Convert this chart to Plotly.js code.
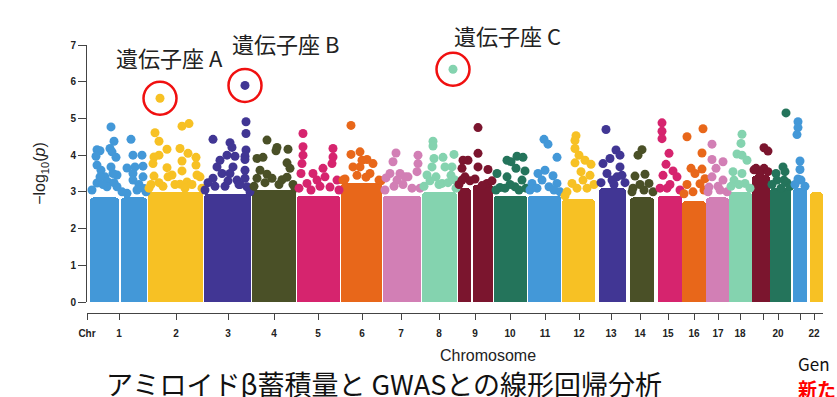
<!DOCTYPE html>
<html>
<head>
<meta charset="utf-8">
<script src="https://cdn.plot.ly/plotly-3.0.1.min.js"></script>
<style>html,body{margin:0;padding:0;background:#fff;overflow:hidden}#chart{width:837px;height:397px}</style>
</head>
<body>
<div id="chart"></div>
<script>
// Chromosome colour cycle (chr1..chr10, then repeating)
const palette = ['#4398D8','#F7C124','#413694','#4A5027','#D6246E','#E8671A','#D27FB5','#84D3AF','#7B152E','#24745B'];

// Dense bulk of SNPs per chromosome segment (genome position units, -log10 p)
const segChr   = [1, 1, 2, 3, 4, 5, 6, 7, 8, 9, 9, 10, 11, 12, 13, 14, 15, 16, 17, 18, 19, 20, 21, 22];
const segStart = [3, 34, 61, 117, 165, 210, 254, 296, 335, 371, 386, 407, 441, 475, 512, 543, 571, 595, 619, 642, 665, 683, 706, 723];
const segEnd   = [32, 60, 116, 164, 209, 253, 295, 334, 370, 384, 406, 440, 474, 508, 539, 567, 595, 619, 642, 665, 683, 704, 720, 736];
const segTop   = [2.85, 2.85, 3.0, 2.95, 3.05, 2.9, 3.25, 2.9, 3.0, 3.1, 3.2, 2.9, 2.9, 2.8, 3.1, 2.85, 2.9, 2.75, 2.85, 3.0, 3.45, 3.1, 3.1, 3.0];

// Individual SNPs standing out above the bulk
const outChr = [
 1,1,1,1,1,1,1,1,1,1,1,1,1,1,1,1,1,1,1,1,1,1,1,1,1,1,1,1,1,1,1,1,1,1,1,1,1,
 2,2,2,2,2,2,2,2,2,2,2,2,2,2,2,2,2,2,2,2,2,2,2,2,2,2,2,2,2,2,2,
 3,3,3,3,3,3,3,3,3,3,3,3,3,3,3,3,3,3,3,3,3,3,3,3,3,3,3,3,3,
 4,4,4,4,4,4,4,4,4,4,4,4,4,4,4,4,4,4,4,
 5,5,5,5,5,5,5,5,5,5,5,5,5,5,5,5,5,5,5,
 6,6,6,6,6,6,6,6,6,6,6,6,6,6,6,
 7,7,7,7,7,7,7,7,7,7,7,7,7,7,7,7,
 8,8,8,8,8,8,8,8,8,8,8,8,8,8,8,8,8,8,8,
 9,9,9,9,9,9,9,9,9,9,9,9,9,9,9,
 10,10,10,10,10,10,10,10,10,10,10,10,10,10,10,10,
 11,11,11,11,11,11,11,11,11,11,11,11,11,11,
 12,12,12,12,12,12,12,12,12,12,12,12,12,12,12,12,
 13,13,13,13,13,13,13,13,13,13,13,13,13,
 14,14,14,14,14,14,14,14,14,14,
 15,15,15,15,15,15,15,15,15,15,15,15,
 16,16,16,16,16,16,16,16,16,16,16,16,
 17,17,17,17,17,17,17,17,17,17,17,
 18,18,18,18,18,18,18,18,18,18,18,18,
 19,19,19,19,19,19,19,
 20,20,20,20,20,20,20,20,20,20,
 21,21,21,21,21,21,21,21,21
];
const outPos = [
 24,27,10,13,23,25,29,9,10,24,14,18,30,21,10,30,20,13,26,44,46,55,40,48,56,46,56,52,40,46,57,5,16,27,35,50,59,
 73,68,72,95,102,80,93,72,101,67,109,66,95,80,109,95,67,85,110,72,93,113,81,100,64,62,76,88,98,105,115,
 158,159,159,126,143,145,159,140,148,158,133,158,130,146,158,135,143,126,150,121,158,138,160,152,118,128,141,153,163,
 180,190,201,170,176,189,200,173,180,203,170,185,195,200,206,167,178,192,208,
 216,216,216,246,246,245,236,226,215,214,230,238,220,250,243,212,224,233,252,
 264,264,273,266,273,280,286,275,283,256,270,292,258,279,294,
 309,331,331,306,303,313,318,330,321,310,299,325,298,307,316,333,
 366,346,346,347,356,367,365,345,358,340,349,364,355,368,337,343,352,361,369,
 391,391,391,381,376,375,401,378,400,395,375,372,383,388,405,
 420,424,430,436,438,429,410,420,428,435,413,423,409,418,432,439,
 457,461,470,458,451,466,445,455,470,462,443,450,467,473,
 489,488,488,492,488,498,504,494,503,478,485,496,480,490,500,507,
 519,529,533,523,516,533,520,530,525,535,514,527,538,
 555,551,558,548,562,546,553,545,557,566,
 575,575,575,582,579,586,576,590,583,573,580,593,
 616,600,615,604,615,608,600,613,618,597,606,617,
 625,625,636,629,625,636,631,622,621,633,640,
 655,654,650,655,660,646,655,647,658,644,652,663,
 677,681,669,677,673,667,681,
 699,696,698,689,690,697,694,685,700,703,
 711,711,710,713,713,711,714,708,718
];
const outVal = [
 4.77,4.38,4.15,4.12,4.18,4.09,3.94,3.97,3.73,3.68,3.59,3.41,3.46,3.27,3.24,3.14,3.14,3.41,3.50,4.43,4.00,4.00,3.65,3.68,3.70,3.50,3.41,3.20,2.96,3.32,3.09,3.05,3.20,3.25,3.00,3.05,3.00,
 5.55,4.61,4.38,4.79,4.86,4.16,4.18,4.00,4.05,3.95,3.94,3.77,3.84,3.66,3.73,3.57,3.43,3.46,3.46,3.25,3.21,3.41,3.41,3.27,3.20,3.10,3.15,3.20,3.10,3.20,3.10,
 5.90,4.91,4.59,4.43,4.34,4.21,4.14,4.00,3.97,3.97,3.86,3.88,3.68,3.68,3.59,3.50,3.50,3.37,3.32,3.25,3.37,3.15,3.14,3.20,3.05,3.15,3.30,3.20,3.00,
 4.41,4.21,4.16,3.91,3.94,4.12,3.79,3.59,3.48,3.64,3.37,3.37,3.33,3.40,3.20,3.15,3.25,3.20,3.10,
 4.59,4.23,4.00,4.18,3.95,3.77,3.64,3.50,3.77,3.50,3.32,3.41,3.23,3.32,3.13,3.10,3.05,3.15,3.05,
 4.81,4.02,4.09,3.68,3.68,3.88,3.77,3.86,3.50,3.32,3.45,3.32,3.35,3.40,3.30,
 4.06,4.00,3.77,3.82,3.50,3.50,3.41,3.55,3.41,3.32,3.38,3.10,3.05,3.15,3.20,3.10,
 6.34,4.38,4.25,3.91,3.94,4.02,3.68,3.68,3.68,3.46,3.41,3.45,3.23,3.32,3.15,3.30,3.20,3.25,3.10,
 4.75,4.05,3.68,3.86,3.86,3.64,3.61,3.41,3.23,3.17,3.32,3.20,3.30,3.35,3.30,
 3.86,3.82,3.97,3.94,3.57,3.64,3.50,3.41,3.14,3.32,3.12,3.20,3.05,3.10,3.05,3.10,
 4.43,4.30,3.94,3.59,3.50,3.44,3.23,3.32,3.23,3.14,3.05,3.10,3.05,3.00,
 4.53,4.40,4.18,4.00,3.79,3.86,3.75,3.55,3.45,2.89,3.23,3.32,3.00,3.10,3.10,3.20,
 4.70,4.14,4.00,3.91,3.77,3.68,3.50,3.41,3.32,3.45,3.25,3.20,3.25,
 4.15,4.00,3.48,3.43,3.23,3.10,3.20,3.00,3.05,3.00,
 4.88,4.65,4.45,4.05,3.75,3.57,3.45,3.41,3.20,3.10,3.10,3.05,
 4.72,4.50,4.06,3.64,3.62,3.50,3.20,3.22,3.36,2.95,3.00,3.05,
 4.30,3.88,3.82,3.64,3.41,3.32,3.15,3.13,3.00,3.05,3.00,
 4.57,4.32,4.03,4.00,3.86,3.55,3.50,3.32,3.23,3.15,3.20,3.10,
 4.20,4.11,3.64,3.64,3.50,3.60,3.55,
 5.15,3.68,3.55,3.50,3.32,3.32,3.10,3.20,3.25,3.15,
 4.91,4.75,4.56,3.84,3.61,3.35,3.32,3.20,3.15
];

// Highlighted loci
const lociName = ['遺伝子座 A', '遺伝子座 B', '遺伝子座 C'];
const lociPos  = [73, 158, 366];
const lociVal  = [5.55, 5.90, 6.34];
const lociLabelPos = [82, 198, 420];

// Axis ticks
const tickPos  = [0, 32, 89, 141, 187, 231, 275, 314, 352, 388, 423, 458, 492, 524, 553, 581, 607, 631, 653, 676, 691, 713, 727];
const tickText = ['Chr','1','2','3','4','5','6','7','8','9','10','11','12','13','14','15','16','17','18',' ','20',' ','22'];
const yTicks   = [0, 1, 2, 3, 4, 5, 6, 7];

const colorOf = c => palette[(c - 1) % 10];

const bulk = {
  type: 'bar',
  x: segStart.map((s, i) => (s + segEnd[i]) / 2),
  width: segStart.map((s, i) => segEnd[i] - s),
  y: segTop,
  marker: { color: segChr.map(colorOf), line: { width: 0 }, cornerradius: 4 },
  hoverinfo: 'skip',
  showlegend: false
};

const snps = {
  type: 'scatter', mode: 'markers',
  x: outPos, y: outVal,
  marker: { size: 9, color: outChr.map(colorOf), line: { width: 0 } },
  cliponaxis: false,
  showlegend: false
};

const arial = 'Arial, "Liberation Sans", sans-serif';
const tickFont = { family: arial, size: 10, color: '#222', weight: 'bold' };
const cjk = '"Noto Sans CJK JP", "Noto Sans", sans-serif';

const shapes = lociPos.map((p, i) => ({
  type: 'circle', xref: 'x', yref: 'y',
  xsizemode: 'pixel', ysizemode: 'pixel',
  xanchor: p, yanchor: lociVal[i],
  x0: -16.5, x1: 16.5, y0: -16.5, y1: 16.5,
  line: { color: '#F01010', width: 2.5 }
}));

const labelY = [0.955, 1.007, 1.037];
const annotations = lociName.map((t, i) => ({
  text: t, xref: 'x', yref: 'paper', x: lociLabelPos[i], y: labelY[i], yanchor: 'middle',
  showarrow: false, font: { family: cjk, size: 22, color: '#222' }
}));
annotations.push(
  { text: 'Chromosome', xref: 'paper', yref: 'paper', x: 0.545, y: -0.16, yanchor: 'middle', showarrow: false,
    font: { family: arial, size: 16, color: '#222' } },
  { text: 'アミロイドβ蓄積量と GWASとの線形回帰分析', xref: 'paper', yref: 'paper', x: 0.4035, y: -0.262, yanchor: 'middle',
    showarrow: false, font: { family: cjk, size: 27, color: '#111' } },
  { text: 'Gen', xref: 'paper', yref: 'paper', x: 0.963, y: -0.19, xanchor: 'left', yanchor: 'middle',
    showarrow: false, font: { family: cjk, size: 17, color: '#111' } },
  { text: '<b>新たな</b>', xref: 'paper', yref: 'paper', x: 0.963, y: -0.283, xanchor: 'left', yanchor: 'middle',
    showarrow: false, font: { family: cjk, size: 19, color: '#FF0000' } }
);

const layout = {
  width: 837, height: 397,
  margin: { l: 87, r: 14, t: 45, b: 84 },
  paper_bgcolor: '#fff', plot_bgcolor: '#fff',
  bargap: 0,
  xaxis: {
    range: [0, 736], anchor: 'free', position: 0,
    showline: true, linecolor: '#444', linewidth: 1,
    ticks: 'outside', ticklen: 6, tickcolor: '#444',
    tickvals: tickPos, ticktext: tickText, tickfont: tickFont, ticklabelstandoff: 5,
    showgrid: false, zeroline: false, fixedrange: true
  },
  yaxis: {
    range: [0, 7], domain: [0.041, 1],
    showline: true, linecolor: '#444', linewidth: 1,
    ticks: 'outside', ticklen: 8, tickcolor: '#444',
    tickvals: yTicks, tickfont: tickFont,
    showgrid: false, zeroline: false, fixedrange: true,
    title: { text: '−log<sub>10</sub>(<i>p</i>)', font: { family: arial, size: 16, color: '#222' }, standoff: 20 }
  },
  shapes: shapes,
  annotations: annotations
};

Plotly.newPlot('chart', [bulk, snps], layout, { staticPlot: true, displayModeBar: false });
</script>
</body>
</html>
